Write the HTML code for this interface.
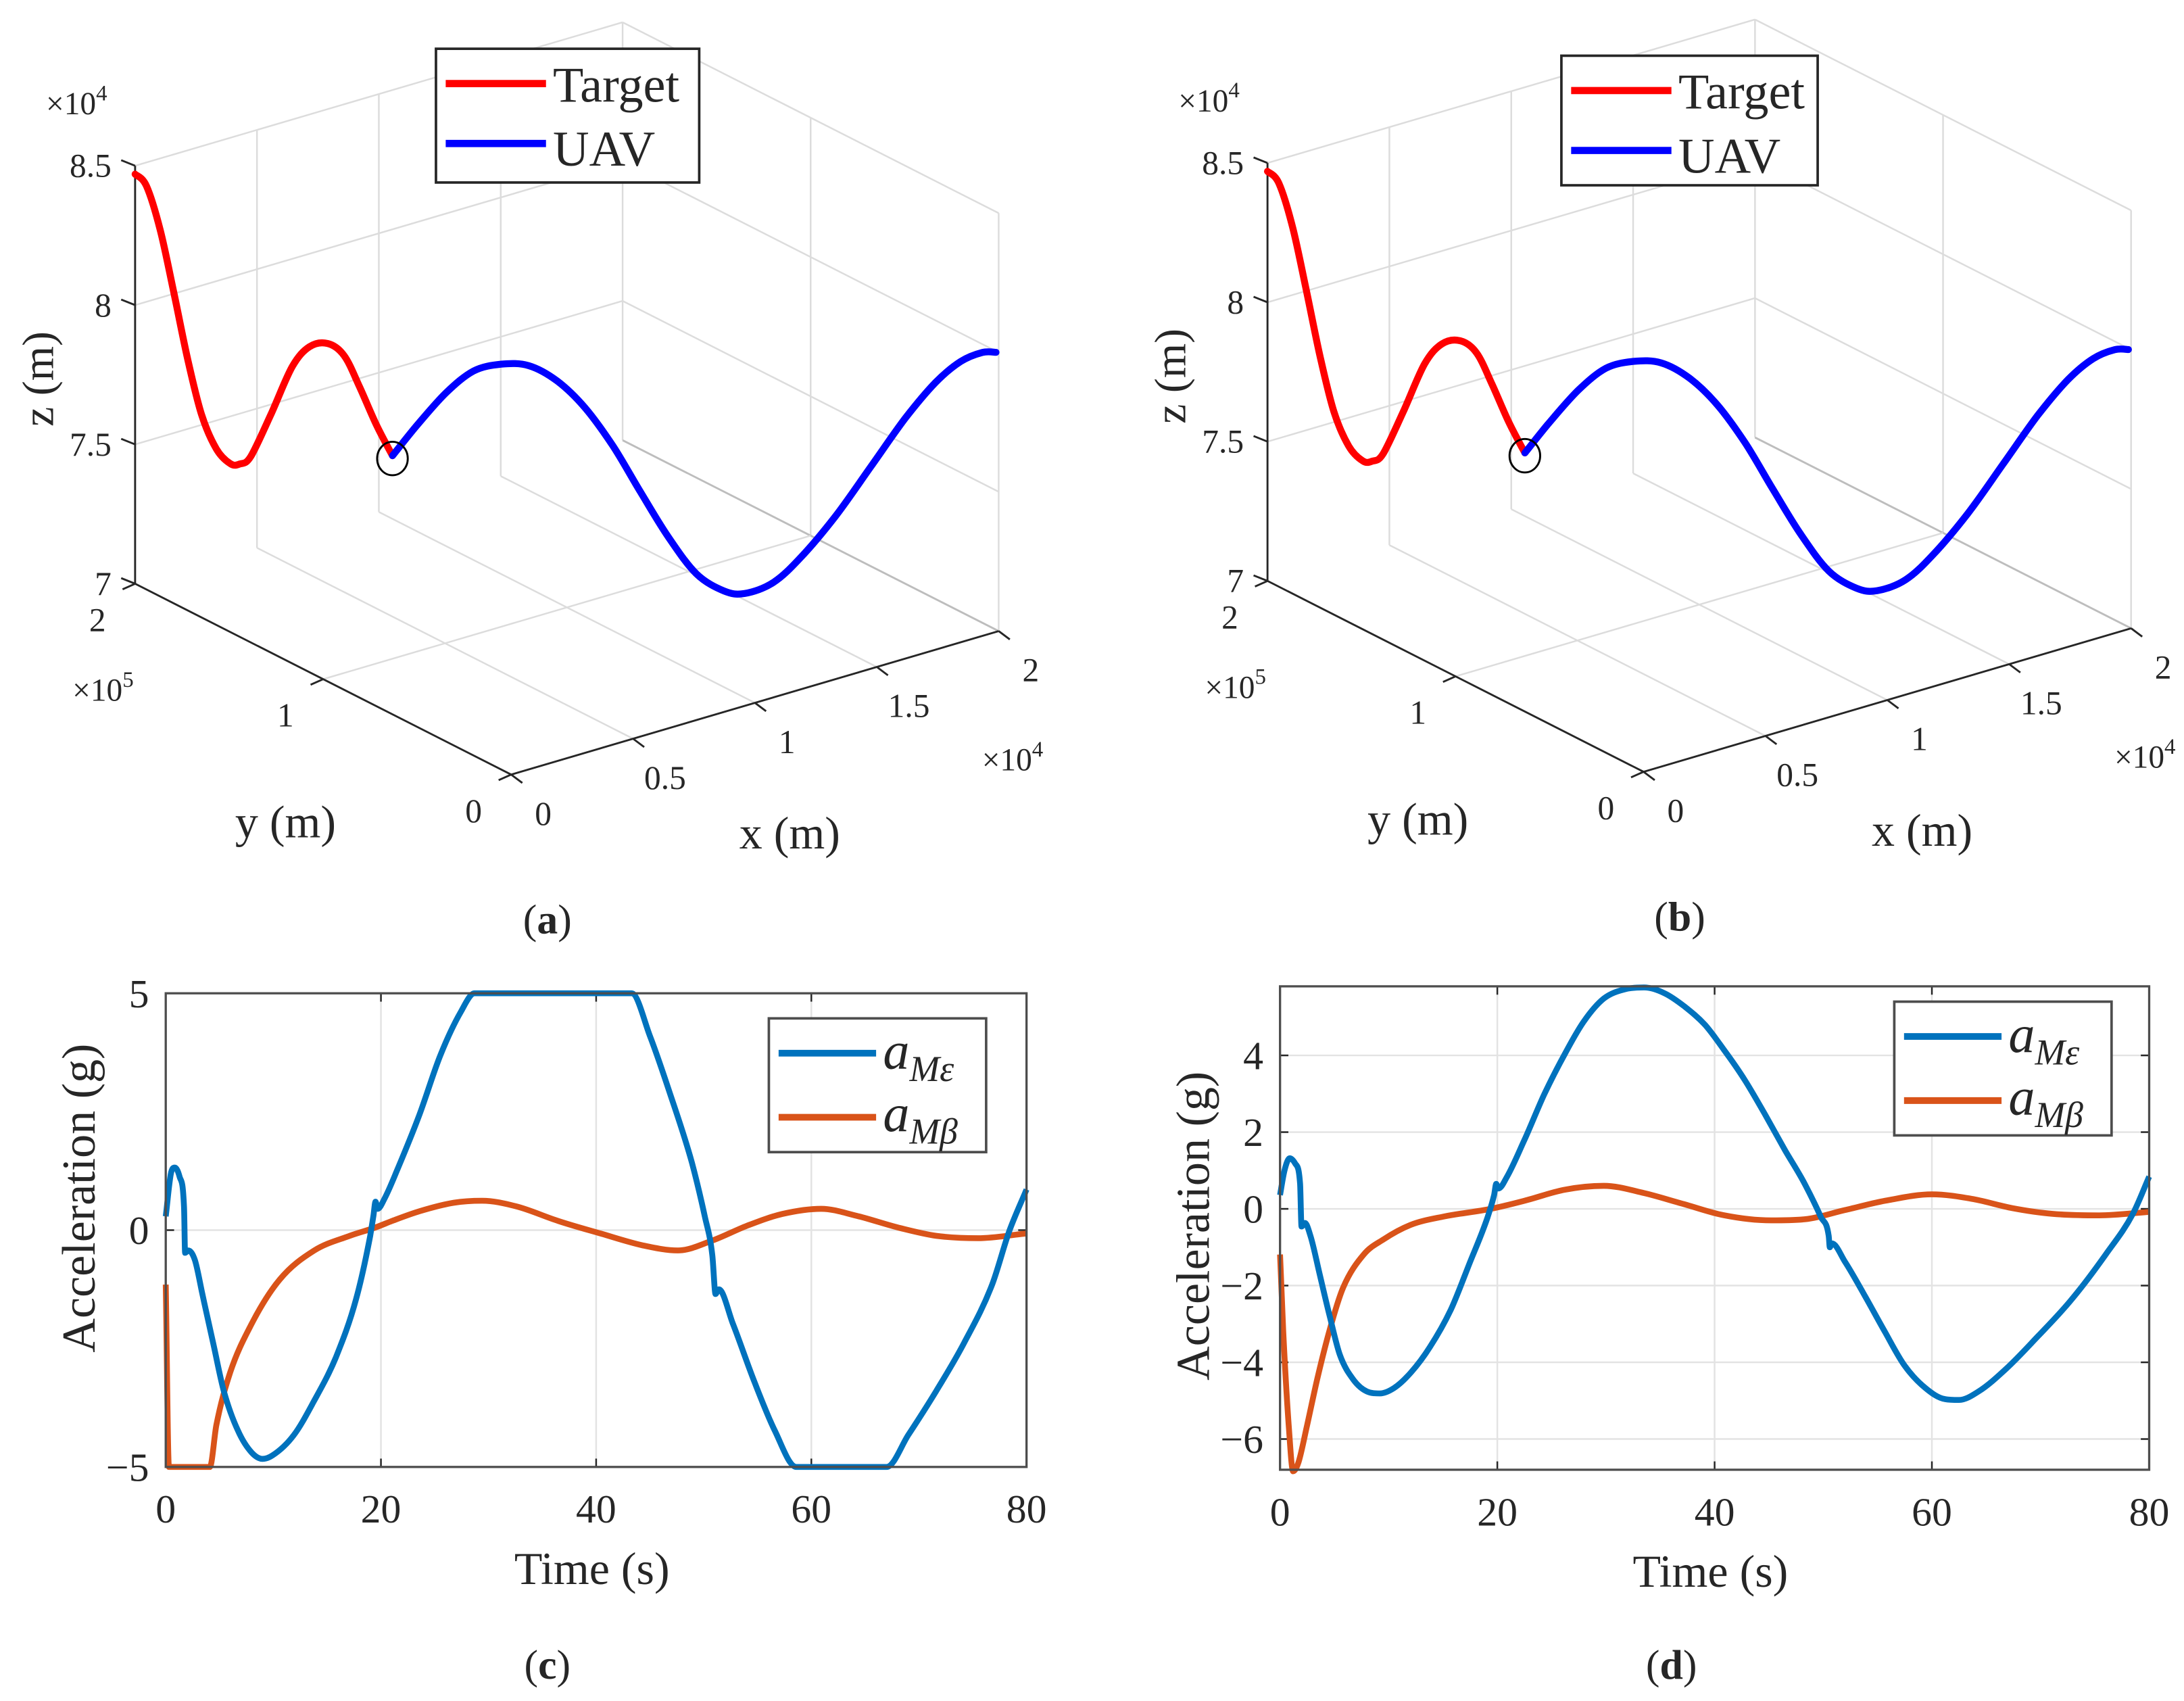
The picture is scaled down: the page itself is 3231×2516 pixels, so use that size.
<!DOCTYPE html>
<html><head><meta charset="utf-8">
<style>
html,body{margin:0;padding:0;background:#fff;}
svg{display:block;}
svg text{font-family:"Liberation Serif","Times New Roman",serif;fill:#262626;}
</style></head>
<body>
<svg id="fig" xmlns="http://www.w3.org/2000/svg" width="3231" height="2516" viewBox="0 0 1568 1221" preserveAspectRatio="none" font-family="Liberation Serif, serif">
<rect x="0" y="0" width="1568" height="1221" fill="#fff"/>
<g id="panelA"></g>
<g id="panelB" transform="translate(813,-2)"></g>
<g id="panelC"></g>
<g id="panelD"></g>
</svg>
<script>
// ---------- 3D trajectory data (x in 1e4 m, y in 1e5 m, z in 1e4 m) ----------
const targetX = [0,0.026,0.058,0.09,0.122,0.154,0.188,0.22,0.242,0.268,0.316,0.364,0.404,0.446,0.484,0.52,0.558,0.596];
const targetY = [2,1.974,1.942,1.91,1.878,1.846,1.812,1.78,1.758,1.732,1.684,1.636,1.596,1.554,1.516,1.48,1.442,1.404];
const targetZ = [8.47,8.43,8.275,8.05,7.815,7.62,7.50,7.45,7.45,7.48,7.64,7.81,7.885,7.90,7.86,7.75,7.62,7.51];
const uavX = [0.596,0.654,0.72,0.784,0.848,0.912,0.978,1.042,1.106,1.17,1.236,1.3,1.364,1.412,1.478,1.542,1.622,1.704,1.784,1.854,1.912,1.962,1.994];
const uavY = [1.404,1.346,1.28,1.216,1.152,1.088,1.022,0.958,0.894,0.83,0.764,0.7,0.636,0.588,0.522,0.458,0.378,0.296,0.216,0.146,0.088,0.038,0.006];
const uavZ = [7.51,7.626,7.746,7.83,7.86,7.86,7.81,7.72,7.59,7.43,7.27,7.146,7.09,7.085,7.13,7.226,7.38,7.565,7.746,7.88,7.96,7.997,8.0];
const xTicks3d = [0,0.5,1,1.5,2];
const xTickLabels3d = ["0","0.5","1","1.5","2"];
const yTicks3d = [0,1,2];
const yTickLabels3d = ["0","1","2"];
const zTicks3d = [7,7.5,8,8.5];
const zTickLabels3d = ["7","7.5","8","8.5"];

// ---------- 2D acceleration data ----------
const cTime = [0,0.5,0.84,1.3,1.7,1.8,2.1,2.7,3.4,4.4,5.4,6.7,8,9,9.9,11.9,13.8,15.8,17.7,19,19.3,19.5,19.7,20.3,21.6,23.6,25.5,27.4,28.7,43.3,45,46.9,48.9,50.1,50.8,51.1,51.4,52.7,54.7,56.6,58.6,67,69,71.6,74.2,76.8,78.4,80];
const cEps = [0.29,1.22,1.32,1.12,0.5,-0.48,-0.43,-0.63,-1.35,-2.38,-3.4,-4.23,-4.7,-4.83,-4.76,-4.33,-3.6,-2.69,-1.45,-0.12,0.3,0.6,0.45,0.65,1.32,2.45,3.68,4.6,5,5,4.1,2.86,1.42,0.29,-0.53,-1.35,-1.25,-1.97,-3.2,-4.23,-5,-5,-4.33,-3.4,-2.38,-1.15,-0.02,0.86];
const cTimeB = [0,0.3,4.1,4.7,6,8,10.6,13.8,17.1,19.3,21,23.6,26.8,29.4,32.6,36.5,40.4,44.3,47.6,50.8,54,57.3,60.9,64.4,68.3,71.6,75.5,80];
const cBeta = [-1.15,-5,-5,-4.12,-3,-1.97,-1.04,-0.43,-0.12,0.04,0.19,0.4,0.58,0.62,0.5,0.19,-0.07,-0.32,-0.43,-0.22,0.09,0.34,0.45,0.29,0.04,-0.12,-0.17,-0.07];
const cYTicks = [-5,0,5];
const cYTickLabels = ["\u22125","0","5"];

const dTime = [0,0.43,0.9,1.4,1.85,1.97,2.3,2.8,3.7,4.6,5.5,6.8,8,9.2,10.5,12,13.8,15.7,17.5,19.1,19.7,19.9,20.1,20.9,22.5,24.3,26.2,28,29.8,31.7,33.5,35.4,37.2,39.1,40.9,42.8,44.6,46.5,48.3,49.8,50.5,50.6,50.8,52,53.8,55.7,57.5,59.4,61.2,62.5,64.3,66.8,69.8,72.9,76,78.5,80];
const dEps = [0.36,1.03,1.32,1.18,0.65,-0.46,-0.37,-0.7,-1.77,-2.83,-3.8,-4.47,-4.76,-4.81,-4.67,-4.28,-3.6,-2.64,-1.38,-0.22,0.36,0.65,0.53,0.84,1.8,2.97,4.03,4.9,5.48,5.72,5.77,5.62,5.28,4.8,4.13,3.35,2.48,1.52,0.65,-0.22,-0.7,-1,-0.9,-1.38,-2.25,-3.22,-4.09,-4.67,-4.96,-4.98,-4.76,-4.18,-3.31,-2.35,-1.19,-0.13,0.84];
const dTimeB = [0,0.3,0.8,1.2,1.7,2.5,3.4,4.6,5.8,7.7,9.5,12,15.1,19.4,22.5,26.2,29.8,33.5,37.2,40.9,45.2,48.3,52,55.7,60,63.7,67.4,71.1,75.4,80];
const dBeta = [-1.19,-3.2,-5.63,-6.84,-6.6,-5.63,-4.47,-3.12,-2.06,-1.19,-0.8,-0.42,-0.2,0,0.21,0.5,0.6,0.41,0.12,-0.17,-0.3,-0.27,-0.03,0.21,0.38,0.26,0.02,-0.13,-0.17,-0.08];
const dYTicks = [-6,-4,-2,0,2,4];
const dYTickLabels = ["\u22126","\u22124","\u22122","0","2","4"];
const timeTicks = [0,20,40,60,80];
const timeTickLabels = ["0","20","40","60","80"];

const NS = "http://www.w3.org/2000/svg";
const SERIF = "Liberation Serif, Times New Roman, serif";
function mk(parent, tag, attrs, txt) {
  const e = document.createElementNS(NS, tag);
  for (const k in attrs) e.setAttribute(k, attrs[k]);
  if (tag === "text") e.setAttribute("font-family", SERIF);
  if (txt !== undefined) e.textContent = txt;
  parent.appendChild(e);
  return e;
}
// Catmull-Rom path (for 3D curves)
function smoothPath(P) {
  let d = "M" + P[0][0].toFixed(1) + "," + P[0][1].toFixed(1);
  for (let i = 0; i < P.length - 1; i++) {
    const p0 = P[Math.max(0, i - 1)], p1 = P[i], p2 = P[i + 1], p3 = P[Math.min(P.length - 1, i + 2)];
    const c1 = [p1[0] + (p2[0] - p0[0]) / 6, p1[1] + (p2[1] - p0[1]) / 6];
    const c2 = [p2[0] - (p3[0] - p1[0]) / 6, p2[1] - (p3[1] - p1[1]) / 6];
    d += " C" + c1[0].toFixed(1) + "," + c1[1].toFixed(1) + " " + c2[0].toFixed(1) + "," + c2[1].toFixed(1) + " " + p2[0].toFixed(1) + "," + p2[1].toFixed(1);
  }
  return d;
}
// monotone cubic (Fritsch-Carlson), no overshoot; for time series
function monotonePath(P) {
  const n = P.length, dx = [], m = [], t = [];
  for (let i = 0; i < n - 1; i++) { dx[i] = P[i + 1][0] - P[i][0]; m[i] = (P[i + 1][1] - P[i][1]) / dx[i]; }
  t[0] = m[0]; t[n - 1] = m[n - 2];
  for (let i = 1; i < n - 1; i++) t[i] = (m[i - 1] * m[i] <= 0) ? 0 : (m[i - 1] + m[i]) / 2;
  for (let i = 0; i < n - 1; i++) {
    if (m[i] === 0) { t[i] = 0; t[i + 1] = 0; continue; }
    const a = t[i] / m[i], b = t[i + 1] / m[i], s = a * a + b * b;
    if (s > 9) { const k = 3 / Math.sqrt(s); t[i] = k * a * m[i]; t[i + 1] = k * b * m[i]; }
  }
  let d = "M" + P[0][0].toFixed(1) + "," + P[0][1].toFixed(1);
  for (let i = 0; i < n - 1; i++) {
    const h = dx[i] / 3;
    d += " C" + (P[i][0] + h).toFixed(1) + "," + (P[i][1] + t[i] * h).toFixed(1) + " " + (P[i + 1][0] - h).toFixed(1) + "," + (P[i + 1][1] - t[i + 1] * h).toFixed(1) + " " + P[i + 1][0].toFixed(1) + "," + P[i + 1][1].toFixed(1);
  }
  return d;
}

// ---------- 3D panel ----------
function draw3D(g, caption, legendBox) {
  const O = [97, 419], XV = [350, -103], YV = [270, 137], ZS = 200;
  const proj = (x, y, z) => [O[0] + (x / 2) * XV[0] + (1 - y / 2) * YV[0], O[1] + (x / 2) * XV[1] + (1 - y / 2) * YV[1] - (z - 7) * ZS];
  const line = (p, q, col, w, name) => {
    const l = mk(g, "line", {x1: p[0], y1: p[1], x2: q[0], y2: q[1], stroke: col, "stroke-width": w});
    
    
    return l;
  };
  const gc = "#dcdcdc";
  xTicks3d.forEach(x => { if (x > 0) line(proj(x, 2, 7), proj(x, 2, 8.5), gc, 1.2, "grid-back-vertical"); });
  zTicks3d.forEach(z => { if (z > 7) line(proj(0, 2, z), proj(2, 2, z), gc, 1.2, "grid-back-horizontal"); });
  yTicks3d.forEach(y => { if (y < 2) line(proj(2, y, 7), proj(2, y, 8.5), gc, 1.2, "grid-side-vertical"); });
  zTicks3d.forEach(z => { if (z > 7) line(proj(2, 2, z), proj(2, 0, z), gc, 1.2, "grid-side-horizontal"); });
  xTicks3d.forEach(x => { if (x > 0 && x < 2) line(proj(x, 2, 7), proj(x, 0, 7), gc, 1.2, "grid-floor-x"); });
  line(proj(2, 2, 7), proj(2, 0, 7), "#bdbdbd", 1.4, "grid-floor-edge");
  yTicks3d.forEach(y => { if (y > 0 && y < 2) line(proj(0, y, 7), proj(2, y, 7), gc, 1.2, "grid-floor-y"); });
  const ac = "#262626";
  line(proj(0, 2, 7), proj(0, 2, 8.5), ac, 1.4, "z-axis-line");
  line(proj(0, 2, 7), proj(0, 0, 7), ac, 1.4, "y-axis-line");
  line(proj(0, 0, 7), proj(2, 0, 7), ac, 1.4, "x-axis-line");
  zTicks3d.forEach((z, i) => {
    const p = proj(0, 2, z);
    line(p, [p[0] - 10, p[1] - 4], ac, 1.4, "z-tick");
    const t = mk(g, "text", {x: p[0] - 17, y: p[1] + 8, "font-size": 24, "text-anchor": "end"}, zTickLabels3d[i]);
    
    
  });
  yTicks3d.forEach((y, i) => {
    const p = proj(0, y, 7);
    line(p, [p[0] - 9, p[1] + 4], ac, 1.4, "y-tick");
    const t = mk(g, "text", {x: p[0] - 27, y: p[1] + 34, "font-size": 24, "text-anchor": "middle"}, yTickLabels3d[i]);
    
    
  });
  xTicks3d.forEach((x, i) => {
    const p = proj(x, 0, 7);
    line(p, [p[0] + 8, p[1] + 6], ac, 1.4, "x-tick");
    const t = mk(g, "text", {x: p[0] + 23, y: p[1] + 36, "font-size": 24, "text-anchor": "middle"}, xTickLabels3d[i]);
    
    
  });
  const e1 = mk(g, "text", {x: 33, y: 82, "font-size": 23});
  
  
  e1.innerHTML = '\u00d710<tspan dy="-10" font-size="16">4</tspan>';
  const e2 = mk(g, "text", {x: 52, y: 503, "font-size": 23});
  
  
  e2.innerHTML = '\u00d710<tspan dy="-10" font-size="16">5</tspan>';
  const e3 = mk(g, "text", {x: 705, y: 553, "font-size": 23});
  
  
  e3.innerHTML = '\u00d710<tspan dy="-10" font-size="16">4</tspan>';
  const zt = mk(g, "text", {x: 0, y: 0, "font-size": 32, "text-anchor": "middle", transform: "translate(38,272) rotate(-90)"}, "z (m)");
  
  
  const yt = mk(g, "text", {x: 205, y: 601, "font-size": 33, "text-anchor": "middle"}, "y (m)");
  
  
  const xt = mk(g, "text", {x: 567, y: 609, "font-size": 33, "text-anchor": "middle"}, "x (m)");
  
  
  const pts = (X, Y, Z) => X.map((x, i) => proj(x, Y[i], Z[i]));
  const tl = mk(g, "path", {d: smoothPath(pts(targetX, targetY, targetZ)), fill: "none", stroke: "#ff0000", "stroke-width": 5, "stroke-linejoin": "round", "stroke-linecap": "round"});
  
  
  const ul = mk(g, "path", {d: smoothPath(pts(uavX, uavY, uavZ)), fill: "none", stroke: "#0000ff", "stroke-width": 5, "stroke-linejoin": "round", "stroke-linecap": "round"});
  
  
  const last = targetX.length - 1;
  const cp = proj(targetX[last], targetY[last], targetZ[last]);
  const cm = mk(g, "ellipse", {cx: cp[0], cy: cp[1] + 2, rx: 11, ry: 12, fill: "none", stroke: "#000", "stroke-width": 1.4});
  
  
  const lg = mk(g, "g", {});
  
  
  const [bx, by, bw, bh] = legendBox;
  mk(lg, "rect", {x: bx, y: by, width: bw, height: bh, fill: "#fff", stroke: "#262626", "stroke-width": 1.8});
  const l1 = mk(lg, "line", {x1: bx + 7, y1: by + 25, x2: bx + 79, y2: by + 25, stroke: "#ff0000", "stroke-width": 5.2});
  
  
  const t1 = mk(lg, "text", {x: bx + 84, y: by + 38, "font-size": 36, fill: "#000"}, "Target");
  
  
  const l2 = mk(lg, "line", {x1: bx + 7, y1: by + 68, x2: bx + 79, y2: by + 68, stroke: "#0000ff", "stroke-width": 5.2});
  
  
  const t2 = mk(lg, "text", {x: bx + 84, y: by + 84, "font-size": 36, fill: "#000"}, "UAV");
  
  
  const cap = mk(g, "text", {x: 393, y: 670, "font-size": 30, "text-anchor": "middle", fill: "#000"});
  
  
  cap.innerHTML = '(<tspan font-weight="bold">' + caption + '</tspan>)';
}

// ---------- 2D panel ----------
function draw2D(g, o) {
  const sx = t => o.x0 + (t - 0) / 80 * (o.x1 - o.x0);
  const sy = v => o.y1 - (v - o.vmin) / (o.vmax - o.vmin) * (o.y1 - o.y0);
  const gc = "#e3e3e3";
  timeTicks.forEach(t => {
    if (t > 0 && t < 80) {
      const l = mk(g, "line", {x1: sx(t), y1: o.y0, x2: sx(t), y2: o.y1, stroke: gc, "stroke-width": 1.2});
      
      
    }
  });
  o.yTicks.forEach(v => {
    const y = sy(v);
    if (y > o.y0 + 1 && y < o.y1 - 1) {
      const l = mk(g, "line", {x1: o.x0, y1: y, x2: o.x1, y2: y, stroke: gc, "stroke-width": 1.2});
      
      
    }
  });
  const ac = "#262626";
  timeTicks.forEach((t, i) => {
    const x = sx(t);
    mk(g, "line", {x1: x, y1: o.y1, x2: x, y2: o.y1 - 6, stroke: ac, "stroke-width": 1.2});
    mk(g, "line", {x1: x, y1: o.y0, x2: x, y2: o.y0 + 6, stroke: ac, "stroke-width": 1.2});
    const tx = mk(g, "text", {x: x, y: o.y1 + 40, "font-size": 29, "text-anchor": "middle"}, timeTickLabels[i]);
    
    
  });
  o.yTicks.forEach((v, i) => {
    const y = sy(v);
    mk(g, "line", {x1: o.x0, y1: y, x2: o.x0 + 6, y2: y, stroke: ac, "stroke-width": 1.2});
    mk(g, "line", {x1: o.x1, y1: y, x2: o.x1 - 6, y2: y, stroke: ac, "stroke-width": 1.2});
    const ty = mk(g, "text", {x: o.x0 - 12, y: y + 10, "font-size": 29, "text-anchor": "end"}, o.yLabels[i]);
    
    
  });
  const pts = (T, V) => T.map((t, i) => [sx(t), sy(V[i])]);
  const sb = mk(g, "path", {d: monotonePath(pts(o.tB, o.beta)), fill: "none", stroke: "#D95319", "stroke-width": 4.2, "stroke-linejoin": "round"});
  
  
  const se = mk(g, "path", {d: monotonePath(pts(o.tE, o.eps)), fill: "none", stroke: "#0072BD", "stroke-width": 4.2, "stroke-linejoin": "round"});
  
  
  const fr = mk(g, "rect", {x: o.x0, y: o.y0, width: o.x1 - o.x0, height: o.y1 - o.y0, fill: "none", stroke: "#4d4d4d", "stroke-width": 1.6});
  
  
  const lg = mk(g, "g", {});
  
  
  const [bx, by] = o.legend;
  mk(lg, "rect", {x: bx, y: by, width: 156, height: 96, fill: "#fff", stroke: "#4d4d4d", "stroke-width": 1.8});
  const l1 = mk(lg, "line", {x1: bx + 7, y1: by + 25, x2: bx + 77, y2: by + 25, stroke: "#0072BD", "stroke-width": 4.8});
  
  
  const t1 = mk(lg, "text", {x: bx + 82, y: by + 36, "font-size": 38, "font-style": "italic", fill: "#000"});
  
  
  t1.innerHTML = 'a<tspan dy="9" font-size="26">M\u03b5</tspan>';
  const l2 = mk(lg, "line", {x1: bx + 7, y1: by + 71, x2: bx + 77, y2: by + 71, stroke: "#D95319", "stroke-width": 4.8});
  
  
  const t2 = mk(lg, "text", {x: bx + 82, y: by + 81, "font-size": 38, "font-style": "italic", fill: "#000"});
  
  
  t2.innerHTML = 'a<tspan dy="9" font-size="26">M\u03b2</tspan>';
  const xt = mk(g, "text", {x: (o.x0 + o.x1) / 2 - 3, y: o.y1 + 84, "font-size": 33, "text-anchor": "middle"}, "Time (s)");
  
  
  const yt = mk(g, "text", {x: 0, y: 0, "font-size": 34, "text-anchor": "middle", transform: "translate(" + o.yTitleX + "," + o.yTitleY + ") rotate(-90)"}, "Acceleration (g)");
  
  
  const cap = mk(g, "text", {x: o.capX, y: 1205, "font-size": 30, "text-anchor": "middle", fill: "#000"});
  
  
  cap.innerHTML = '(<tspan font-weight="bold">' + o.caption + '</tspan>)';
}

draw3D(document.getElementById("panelA"), "a", [313, 35, 189, 96]);
draw3D(document.getElementById("panelB"), "b", [308, 42, 184, 93]);
draw2D(document.getElementById("panelC"), {x0: 119, x1: 737, y0: 713, y1: 1053, vmin: -5, vmax: 5, yTicks: cYTicks, yLabels: cYTickLabels, tE: cTime, eps: cEps, tB: cTimeB, beta: cBeta, legend: [552, 731], yTitleX: 68, yTitleY: 860, capX: 393, caption: "c"});
draw2D(document.getElementById("panelD"), {x0: 919, x1: 1543, y0: 708, y1: 1055, vmin: -6.8, vmax: 5.8, yTicks: dYTicks, yLabels: dYTickLabels, tE: dTime, eps: dEps, tB: dTimeB, beta: dBeta, legend: [1360, 719], yTitleX: 868, yTitleY: 880, capX: 1200, caption: "d"});
</script>
</body></html>
